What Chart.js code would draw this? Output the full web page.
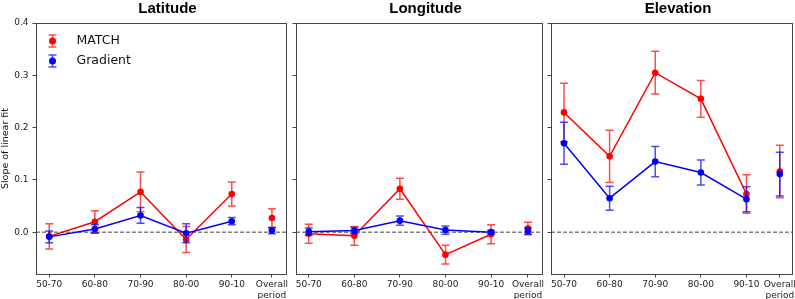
<!DOCTYPE html>
<html>
<head>
<meta charset="utf-8">
<script src="https://cdn.jsdelivr.net/npm/chart.js@4/dist/chart.umd.min.js"></script>
<style>
  html, body { margin: 0; padding: 0; background: #fff; }
  #wrap { position: relative; width: 795px; height: 299px; overflow: hidden; }
  canvas { position: absolute; top: 0; }
</style>
</head>
<body>
<div id="wrap">
  <canvas id="c-lat" width="290" height="299" style="left:0px"></canvas>
  <canvas id="c-lon" width="256" height="299" style="left:290px"></canvas>
  <canvas id="c-ele" width="249" height="299" style="left:546px"></canvas>
</div>
<script>
// periodi sull'asse x e tick dell'asse y
const periods = ['50-70', '60-80', '70-90', '80-00', '90-10', 'Overall period'];
const yTicks = [0, 0.1, 0.2, 0.3, 0.4];

// Latitude
const latMatch    = [-0.008, 0.020, 0.077, -0.014, 0.073, 0.027];
const latMatchErr = [0.024, 0.021, 0.038, 0.025, 0.023, 0.018];
const latGrad     = [-0.009, 0.006, 0.032, -0.002, 0.021, 0.003];
const latGradErr  = [0.011, 0.008, 0.015, 0.018, 0.007, 0.006];

// Longitude
const lonMatch    = [-0.003, -0.007, 0.083, -0.043, -0.004, 0.007];
const lonMatchErr = [0.018, 0.018, 0.020, 0.018, 0.018, 0.012];
const lonGrad     = [0.001, 0.003, 0.022, 0.004, 0.000, 0.002];
const lonGradErr  = [0.007, 0.006, 0.009, 0.008, 0.003, 0.006];

// Elevation
const eleMatch    = [0.229, 0.145, 0.305, 0.255, 0.073, 0.116];
const eleMatchErr = [0.056, 0.050, 0.041, 0.035, 0.037, 0.050];
const eleGrad     = [0.170, 0.065, 0.135, 0.114, 0.063, 0.111];
const eleGradErr  = [0.040, 0.023, 0.029, 0.024, 0.024, 0.042];

// barre d'errore disegnate prima di ogni serie
const errorBars = {
  id: 'errorBars',
  beforeDatasetDraw(chart, args) {
    const ds = chart.data.datasets[args.index];
    const xs = chart.scales.x, ys = chart.scales.y;
    const ctx = chart.ctx;
    ctx.save();
    ctx.strokeStyle = ds.errColor;
    ctx.lineWidth = 1.5;
    ds.data.forEach((p, i) => {
      const x = xs.getPixelForValue(p.x);
      const top = ys.getPixelForValue(p.y + ds.errors[i]);
      const bot = ys.getPixelForValue(p.y - ds.errors[i]);
      ctx.beginPath();
      ctx.moveTo(x, top); ctx.lineTo(x, bot);
      ctx.moveTo(x - 4, top); ctx.lineTo(x + 4, top);
      ctx.moveTo(x - 4, bot); ctx.lineTo(x + 4, bot);
      ctx.stroke();
    });
    ctx.restore();
  }
};

// riquadro, linea dello zero e titolo
const frame = {
  id: 'frame',
  beforeDatasetsDraw(chart) {
    const { ctx, chartArea: a } = chart;
    const y0 = chart.scales.y.getPixelForValue(0);
    ctx.save();
    ctx.strokeStyle = '#444';
    ctx.lineWidth = 1;
    ctx.setLineDash([4, 2]);
    ctx.beginPath();
    ctx.moveTo(a.left, y0); ctx.lineTo(a.right, y0);
    ctx.stroke();
    ctx.restore();
  },
  afterDraw(chart) {
    const { ctx, chartArea: a } = chart;
    ctx.save();
    ctx.strokeStyle = '#444';
    ctx.lineWidth = 1;
    ctx.strokeRect(a.left + 0.5, a.top + 0.5, a.right - a.left - 1, a.bottom - a.top);
    ctx.fillStyle = '#000';
    ctx.font = 'bold 15px "Liberation Sans", Arial, sans-serif';
    ctx.textAlign = 'center';
    ctx.textBaseline = 'alphabetic';
    ctx.fillText(chart.options.plugins.frame.title, (a.left + a.right) / 2 + 6, 13);
    ctx.restore();
  }
};

// legenda dentro il primo pannello
const errLegend = {
  id: 'errLegend',
  afterDraw(chart) {
    const ctx = chart.ctx;
    const rows = [['MATCH', '#ff0000', 'rgba(255,0,0,0.7)', 41], ['Gradient', '#0000ff', 'rgba(0,0,255,0.7)', 61]];
    ctx.save();
    rows.forEach(([label, col, errCol, y]) => {
      const x = 52.5;
      ctx.strokeStyle = errCol;
      ctx.lineWidth = 1.5;
      ctx.beginPath();
      ctx.moveTo(x, y - 6); ctx.lineTo(x, y + 6);
      ctx.moveTo(x - 4, y - 6); ctx.lineTo(x + 4, y - 6);
      ctx.moveTo(x - 4, y + 6); ctx.lineTo(x + 4, y + 6);
      ctx.stroke();
      ctx.fillStyle = col;
      ctx.beginPath();
      ctx.arc(x, y, 3.5, 0, Math.PI * 2);
      ctx.fill();
      ctx.fillStyle = '#111';
      ctx.font = '12.5px "DejaVu Sans", sans-serif';
      ctx.textAlign = 'left';
      ctx.textBaseline = 'middle';
      ctx.fillText(label, 76.5, y);
    });
    ctx.restore();
  }
};

function serie(label, values, errors, overallX, color, errColor, order) {
  return {
    label: label,
    data: values.map((v, i) => ({ x: i < 5 ? i : overallX, y: v })),
    errors: errors,
    errColor: errColor,
    borderColor: color,
    backgroundColor: color,
    pointBackgroundColor: color,
    borderWidth: 1.5,
    pointRadius: 3.3,
    pointBorderWidth: 0,
    pointHoverRadius: 0,
    tension: 0,
    order: order,
    segment: { borderColor: c => c.p1DataIndex === 5 ? 'rgba(0,0,0,0)' : undefined }
  };
}

function pannello(p) {
  const xPos = [0, 1, 2, 3, 4, p.overallX];
  return new Chart(document.getElementById(p.id), {
    type: 'line',
    data: {
      datasets: [
        serie('MATCH', p.match, p.matchErr, p.overallX, '#ff0000', 'rgba(255,0,0,0.7)', 2),
        serie('Gradient', p.grad, p.gradErr, p.overallX, '#0000ff', 'rgba(0,0,255,0.7)', 1)
      ]
    },
    options: {
      responsive: false,
      animation: false,
      events: [],
      layout: { autoPadding: false, padding: { top: 23, right: p.padRight, left: 0, bottom: 0 } },
      plugins: { legend: { display: false }, tooltip: { enabled: false }, frame: { title: p.title } },
      scales: {
        x: {
          type: 'linear', min: p.xMin, max: p.xMax,
          border: { display: false },
          grid: { drawOnChartArea: false, drawTicks: true, tickLength: 3.5, color: '#444' },
          ticks: {
            autoSkip: false, maxRotation: 0, padding: 1.5, color: '#222',
            font: { family: 'DejaVu Sans', size: 9, lineHeight: 1.2 },
            callback: (v, i) => periods[i] === 'Overall period' ? ['Overall', 'period'] : periods[i]
          },
          afterBuildTicks: s => { s.ticks = xPos.map(v => ({ value: v })); },
          afterFit: s => { s.height = 25; s.paddingLeft = 0; s.paddingRight = 0; }
        },
        y: {
          min: -0.08, max: 0.4,
          border: { display: false },
          grid: { drawOnChartArea: false, drawTicks: true, tickLength: 3.5, color: '#444' },
          ticks: {
            padding: 4, color: '#222',
            font: { family: 'DejaVu Sans', size: 9 },
            callback: v => p.yLabels ? v.toFixed(1) : ''
          },
          title: {
            display: p.yLabels, text: 'Slope of linear fit', color: '#111', padding: 0,
            font: { family: 'DejaVu Sans', size: 9.5 }
          },
          afterBuildTicks: s => { s.ticks = yTicks.map(v => ({ value: v })); },
          afterFit: s => { s.width = p.yWidth; s.paddingTop = 0; s.paddingBottom = 0; }
        }
      }
    },
    plugins: p.legend ? [errorBars, frame, errLegend] : [errorBars, frame]
  });
}

pannello({ id: 'c-lat', title: 'Latitude', match: latMatch, matchErr: latMatchErr, grad: latGrad, gradErr: latGradErr,
  overallX: 4.88, xMin: -0.29, xMax: 5.21, yWidth: 36, padRight: 3, yLabels: true, legend: true });
pannello({ id: 'c-lon', title: 'Longitude', match: lonMatch, matchErr: lonMatchErr, grad: lonGrad, gradErr: lonGradErr,
  overallX: 4.81, xMin: -0.28, xMax: 5.14, yWidth: 6, padRight: 3, yLabels: false, legend: false });
pannello({ id: 'c-ele', title: 'Elevation', match: eleMatch, matchErr: eleMatchErr, grad: eleGrad, gradErr: eleGradErr,
  overallX: 4.73, xMin: -0.285, xMax: 5.02, yWidth: 5, padRight: 2, yLabels: false, legend: false });
</script>
</body>
</html>
